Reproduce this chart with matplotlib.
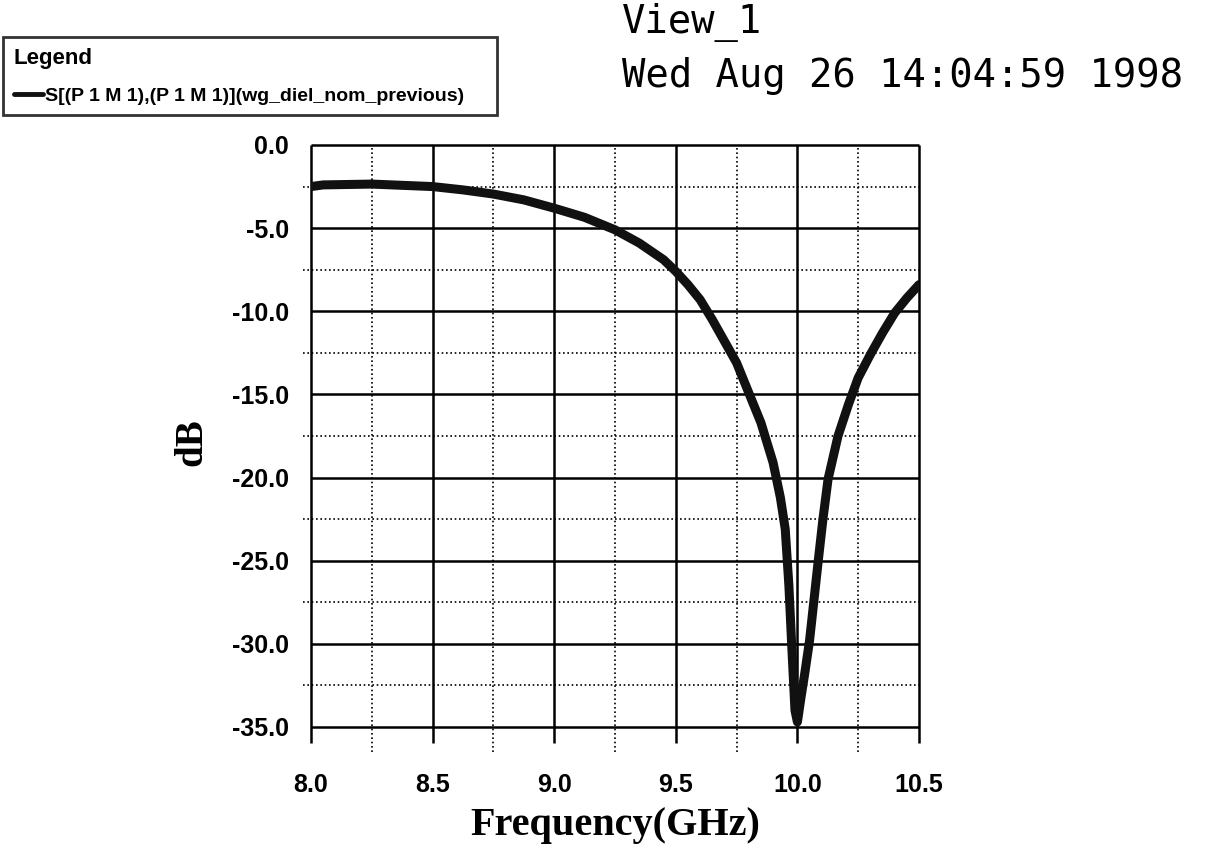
import numpy as np
import matplotlib
matplotlib.use('Agg')
import matplotlib.pyplot as plt
from matplotlib.ticker import FormatStrFormatter

plt.rcParams['axes.unicode_minus'] = False

# S11 of the dielectric-loaded waveguide
freq_ghz = [8.0, 8.05, 8.25, 8.5, 8.625, 8.75, 8.875, 9.0, 9.125, 9.25,
            9.35, 9.45, 9.5, 9.55, 9.6, 9.65, 9.7, 9.75, 9.8, 9.85, 9.9,
            9.93, 9.95, 9.965, 9.977, 9.99, 10.0, 10.015, 10.03, 10.05,
            10.085, 10.105, 10.126, 10.167, 10.21, 10.25, 10.3, 10.35,
            10.4, 10.45, 10.5]
s11_db = [-2.5, -2.4, -2.35, -2.5, -2.7, -2.95, -3.3, -3.8, -4.35, -5.1,
          -5.9, -6.9, -7.6, -8.4, -9.3, -10.5, -11.8, -13.1, -14.9, -16.7,
          -19.1, -21.2, -23.1, -26.5, -30.2, -34.0, -34.7, -33.2, -31.8,
          -29.8, -25.1, -22.5, -20.1, -17.5, -15.6, -14.0, -12.6, -11.3,
          -10.1, -9.2, -8.4]

x_major = [8.0, 8.5, 9.0, 9.5, 10.0, 10.5]
x_minor = [8.25, 8.75, 9.25, 9.75, 10.25]
y_major = [0.0, -5.0, -10.0, -15.0, -20.0, -25.0, -30.0, -35.0]
y_minor = [-2.5, -7.5, -12.5, -17.5, -22.5, -27.5, -32.5]

series_label = 'S[(P 1 M 1),(P 1 M 1)](wg_diel_nom_previous)'
view_name = 'View_1'
stamp = 'Wed Aug 26 14:04:59 1998'

W, H = 1228, 851
fig = plt.figure(figsize=(W / 100, H / 100), dpi=100)
ax = fig.add_axes([311 / W, 1 - 727 / H, 608 / W, 582 / H])

dots = (0, (1, 1.6))
# grid: solid majors, dotted minors, sticking out of the frame a little
ax.vlines(x_major, -16 / 582, 1, transform=ax.get_xaxis_transform(),
          colors='black', lw=1.8, clip_on=False, zorder=1)
ax.vlines(x_minor, -25 / 582, 1, transform=ax.get_xaxis_transform(),
          colors='black', lw=1.2, linestyles=[dots], clip_on=False, zorder=1)
ax.hlines(y_major, 0, 1, transform=ax.get_yaxis_transform(),
          colors='black', lw=1.8, clip_on=False, zorder=1)
ax.hlines(y_minor, -8 / 608, 1, transform=ax.get_yaxis_transform(),
          colors='black', lw=1.2, linestyles=[dots], clip_on=False, zorder=1)

line, = ax.plot(freq_ghz, s11_db, color='#111111', lw=6.5,
                solid_capstyle='round', solid_joinstyle='round',
                label=series_label, zorder=3)

ax.set_xlim(8.0, 10.5)
ax.set_ylim(-35.0, 0.0)
ax.set_xticks(x_major)
ax.set_yticks(y_major)
ax.xaxis.set_major_formatter(FormatStrFormatter('%.1f'))
ax.yaxis.set_major_formatter(FormatStrFormatter('%.1f'))
ax.tick_params(length=0)
ax.tick_params(axis='x', pad=33)
ax.tick_params(axis='y', pad=16)
for lab in ax.get_xticklabels() + ax.get_yticklabels():
    lab.set_fontfamily('Liberation Sans')
    lab.set_fontweight('bold')
    lab.set_fontsize(18)
for sp in ax.spines.values():
    sp.set_visible(False)

ax.set_xlabel('Frequency(GHz)', family='Liberation Serif', weight='bold',
              fontsize=29)
ax.xaxis.set_label_coords(0.5, -0.137)
ax.set_ylabel('dB', family='Liberation Serif', weight='bold', fontsize=28)
ax.yaxis.set_label_coords(-0.166, 0.49)

leg = ax.legend(handles=[line], loc='upper left',
                bbox_to_anchor=(3 / W, 1 - 117 / H, 494 / W, 80 / H),
                bbox_transform=fig.transFigure, mode='expand',
                borderaxespad=0, title='Legend', alignment='left',
                title_fontproperties={'family': 'Liberation Sans',
                                      'weight': 'bold', 'size': 16},
                prop={'family': 'Liberation Sans', 'weight': 'bold',
                      'size': 14},
                frameon=True, fancybox=False, handlelength=1.5,
                handletextpad=0.1, borderpad=0.55, labelspacing=0.95)
leg.get_frame().set_edgecolor('black')
leg.get_frame().set_linewidth(2)
leg.get_lines()[0].set_linewidth(3.5)

fig.text(622 / W, 1 - 33 / H, view_name, family='DejaVu Sans Mono',
         fontsize=28, va='baseline')
fig.text(622 / W, 1 - 87 / H, stamp, family='DejaVu Sans Mono',
         fontsize=28, va='baseline')

fig.savefig('out.png', dpi=100)
